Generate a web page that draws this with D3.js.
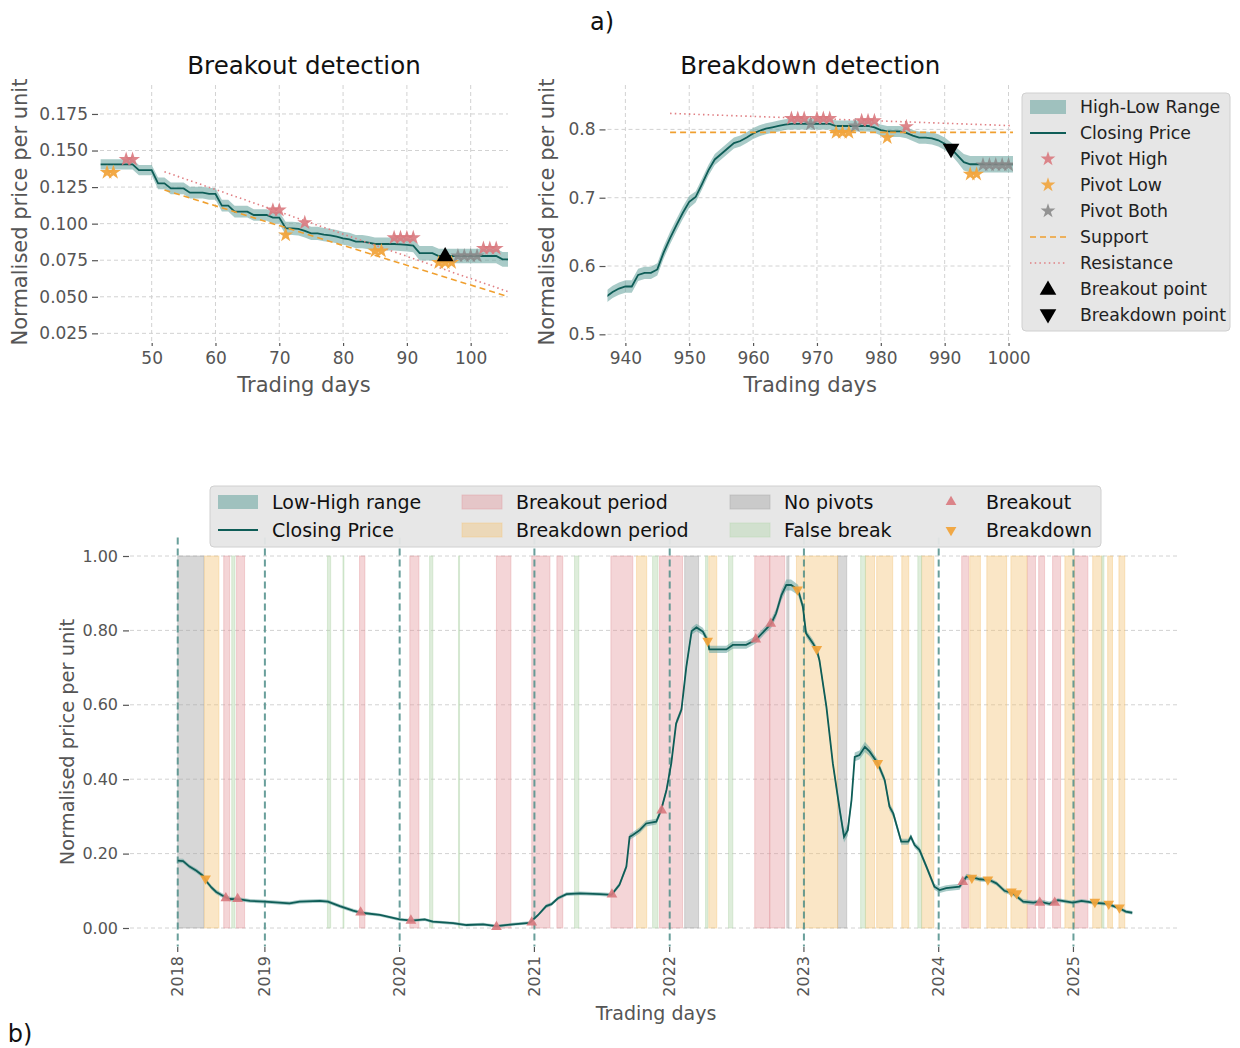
<!DOCTYPE html>
<html>
<head>
<meta charset="utf-8">
<script src="https://cdn.jsdelivr.net/npm/d3@7"></script>
<style>
  body { margin: 0; background: #fff; }
  svg { display: block; }
  text { font-family: "DejaVu Sans", sans-serif; }
</style>
</head>
<body>
<svg id="fig" width="1240" height="1048"></svg>
<script>
// ---------- Panel a, left: breakout detection window (days 42..106) ----------
const boStartDay = 42;
const boClose = [
  .1405, .1405, .1405, .1405, .1405, .1405,
  .1366, .1366, .1366,
  .1276, .1276,
  .1241, .1241, .1241,
  .1212, .1212, .1212,
  .1203, .1203,
  .1123, .1123,
  .1082, .1082, .1082,
  .1059, .1059, .1059,
  .1041, .1041,
  .0968, .0968, .0964,
  .0950, .0934, .0934, .0925, .0920,
  .0911, .0900, .0893, .0877, .0877, .0870,
  .0861, .0861, .0861, .0861, .0858, .0855, .0850,
  .0798, .0798, .0798,
  .0779, .0779, .0779, .0779, .0779, .0779, .0779, .0779, .0779, .0779,
  .0756, .0756
];
const boSpread = [
  .0035, .0035, .0035, .0035, .0035, .0035, .0035, .0035, .0035,
  .004, .004, .004, .004, .004, .004, .004, .004, .004, .004,
  .004, .004, .004, .004, .004, .004, .004, .004, .004, .004,
  .0045, .0045, .0045, .0045, .0045, .0045, .0045, .0045, .0045, .0045, .0045,
  .0045, .0045, .0045, .0045, .0045, .0045, .0045, .0045, .0045, .0045,
  .005, .005, .005, .005, .005, .005, .005, .005, .005, .005,
  .005, .005, .005, .005, .005
];
const boPivotHighDays = [46, 47, 69, 70, 74, 88, 89, 90, 91, 102, 103, 104];
const boPivotHighVals = [.1439, .1439, .1093, .1093, .1007, .0904, .0904, .0904, .0904, .0831, .0831, .0831];
const boPivotLowDays = [43, 44, 71, 85, 86, 95, 96, 97];
const boPivotLowVals = [.1351, .1351, .0923, .0813, .0813, .0734, .0734, .0734];
const boPivotBothDays = [98, 99, 100, 101];
const boPivotBothVals = [.0779, .0779, .0779, .0779];
const boSupportDays = [52, 106];
const boSupportVals = [.1230, .0499];
const boResistDays = [52, 106];
const boResistVals = [.1355, .0533];
const boSignalDay = 96;
const boSignalVal = .0775;
const boXTicks = [50, 60, 70, 80, 90, 100];
const boYTicks = [.025, .05, .075, .1, .125, .15, .175];

// ---------- Panel a, right: breakdown detection window (days 937..1001) ----------
const bdStartDay = 937;
const bdClose = [
  .555, .562, .567, .570, .570, .587, .590, .590, .595, .620, .641, .660, .678, .694,
  .701, .720, .740, .756, .764, .772, .780, .783, .788, .794,
  .798, .801, .803, .805, .807, .808, .808, .808, .808, .808,
  .808, .808, .805, .805, .805, .805, .805, .805, .803, .799,
  .797, .797, .797, .795, .791, .788, .788, .787, .784, .779,
  .772, .762, .752, .749, .749, .749, .749, .749, .749, .749,
  .749
];
const bdSpread = [
  .009, .009, .009, .009, .009, .009, .009, .009, .009, .009, .009, .009, .009, .009,
  .008, .008, .008, .008, .008, .008, .008, .008, .008, .008,
  .008, .008, .008, .008, .008, .008, .008, .008, .008, .008,
  .008, .008, .008, .008, .008, .008, .008, .008, .008, .008,
  .008, .008, .008, .008, .008, .009, .009, .009, .009, .009,
  .009, .010, .012, .012, .012, .012, .012, .012, .012, .012,
  .012
];
const bdPivotHighDays = [966, 967, 968, 970, 971, 972, 977, 978, 979, 984];
const bdPivotHighVals = [.816, .816, .816, .816, .816, .816, .8127, .8127, .8127, .804];
const bdPivotLowDays = [973, 974, 975, 981, 994, 995];
const bdPivotLowVals = [.7956, .7956, .7956, .788, .7346, .7346];
const bdPivotBothDays = [969, 976, 996, 997, 998, 999, 1000];
const bdPivotBothVals = [.808, .805, .748, .748, .748, .748, .748];
const bdSupportDays = [947, 1001];
const bdSupportVals = [.7956, .7956];
const bdResistDays = [947, 1001];
const bdResistVals = [.8234, .8053];
const bdSignalDay = 991;
const bdSignalVal = .772;
const bdXTicks = [940, 950, 960, 970, 980, 990, 1000];
const bdYTicks = [.5, .6, .7, .8];

// ---------- Panel b: full history ----------
const bDays = [0, 10, 22, 35, 47, 54, 63, 72, 85, 97,
  116, 135, 163, 209, 228, 266, 281, 303, 328, 343,
  378, 415, 437, 462, 477, 515, 540, 571, 596, 627,
  658, 674, 689, 699, 711, 727, 752, 789, 811, 826,
  839, 845, 851, 864, 876, 895, 904, 914, 923, 932,
  942, 951, 961, 970, 982, 991, 994, 1026, 1038, 1063,
  1075, 1082, 1101, 1110, 1119, 1129, 1138, 1147, 1160, 1169,
  1175, 1188, 1195, 1200, 1213, 1225, 1238, 1246, 1253, 1260,
  1266, 1275, 1285, 1294, 1309, 1322, 1331, 1338, 1353, 1366,
  1371, 1378, 1387, 1400, 1415, 1425, 1437, 1462, 1468, 1475,
  1487, 1500, 1518, 1531, 1546, 1562, 1581, 1600, 1612, 1630,
  1646, 1674, 1690, 1712, 1739, 1761, 1773, 1785];
const bClose = [.181, .180, .165, .154, .1405, .125, .109, .097, .086, .078,
  .077, .073, .071, .066, .071, .073, .071, .059, .047, .041,
  .035, .023, .020, .023, .017, .013, .008, .010, .005, .010,
  .014, .035, .059, .064, .080, .091, .093, .091, .089, .116,
  .165, .245, .250, .263, .281, .286, .317, .371, .443, .550,
  .587, .701, .798, .808, .797, .772, .749, .749, .761, .761,
  .770, .776, .805, .819, .846, .895, .922, .922, .909, .864,
  .792, .765, .747, .720, .595, .443, .317, .245, .263, .344,
  .460, .465, .487, .474, .443, .398, .326, .308, .232, .232,
  .245, .223, .210, .165, .111, .102, .107, .111, .124, .138,
  .136, .131, .129, .120, .100, .093, .071, .068, .071, .065,
  .075, .068, .073, .068, .065, .053, .044, .041];
const bSpread = [.006, .006, .006, .006, .006, .006, .006, .006, .006, .006,
  .005, .005, .005, .005, .005, .005, .005, .005, .005, .005,
  .004, .004, .004, .004, .004, .004, .004, .004, .004, .004,
  .004, .004, .005, .005, .005, .005, .005, .005, .005, .006,
  .008, .008, .008, .008, .008, .008, .008, .008, .008, .009,
  .009, .009, .010, .010, .010, .010, .010, .010, .010, .010,
  .010, .010, .010, .012, .012, .014, .015, .015, .014, .012,
  .010, .010, .010, .010, .010, .010, .012, .015, .015, .012,
  .012, .012, .014, .012, .010, .010, .010, .010, .008, .008,
  .008, .008, .008, .008, .008, .008, .008, .008, .008, .008,
  .006, .006, .006, .006, .006, .006, .006, .006, .006, .006,
  .005, .005, .005, .005, .005, .005, .005, .005];
const bBreakoutDays = [90, 112, 342, 436, 596, 662, 812, 905, 1081, 1109, 1468, 1612, 1640];
const bBreakoutVals = [.080, .078, .042, .020, .003, .015, .090, .316, .776, .818, .124, .068, .068];
const bBreakdownDays = [52, 991, 1159, 1195, 1309, 1485, 1515, 1559, 1569, 1715, 1741, 1761];
const bBreakdownVals = [.133, .772, .910, .750, .443, .135, .130, .098, .093, .070, .065, .055];

const breakoutPeriods = [[86, 97], [110, 125], [340, 350], [434, 451], [596, 623], [662, 696], [709, 720],
  [810, 851], [901, 944], [1079, 1107], [1107, 1135], [1466, 1479], [1589, 1604], [1610, 1621],
  [1636, 1651], [1677, 1702]];
const breakdownPeriods = [[50, 77], [858, 877], [993, 1008], [1157, 1172], [1172, 1234], [1286, 1303],
  [1307, 1337], [1354, 1367], [1391, 1414], [1481, 1501], [1513, 1550], [1558, 1588], [1659, 1677],
  [1711, 1728], [1739, 1748], [1760, 1771]];
const noPivotPeriods = [[0, 49], [948, 974], [1139, 1143], [1234, 1251]];
const falseBreakPeriods = [[101, 107], [280, 286], [309, 310], [471, 477], [525, 527], [742, 750],
  [888, 898], [987, 991], [1030, 1038], [1277, 1286], [1384, 1391], [1728, 1732]];

const yearDays = [0, 163, 415, 667, 920, 1171, 1423, 1675];
const yearLabels = ["2018", "2019", "2020", "2021", "2022", "2023", "2024", "2025"];
const bYTicks = [0, .2, .4, .6, .8, 1.0];

// ---------- styling ----------
const C = {
  band: "#6fa8a3", bandOpacity: 0.6,
  close: "#0e5d57",
  high: "#d9797e", low: "#f1a43c", both: "#8a8a8a",
  support: "#f0a030", resist: "#e07f83",
  grid: "#d2d2d2", tick: "#555", label: "#555",
  spanBreakout: "#e3959b", spanBreakdown: "#f3c378", spanNone: "#a6a6a6", spanFalse: "#b5d6b0",
  yearLine: "#4f8f8a", legendBg: "#e6e6e6", legendEdge: "#d0d0d0"
};

const svg = d3.select("#fig");
const defs = svg.append("defs");

function styleAxis(g, size) {
  g.select(".domain").remove();
  g.selectAll(".tick line").attr("stroke", C.tick).attr("stroke-width", 1.2);
  g.selectAll(".tick text").attr("fill", C.tick).attr("font-size", size)
    .attr("font-family", '"DejaVu Sans", sans-serif');
}

function starPts(g, days, vals, x, y, color, opacity) {
  g.selectAll(null).data(days.map((d, i) => [d, vals[i]])).join("path")
    .attr("d", d3.symbol().type(d3.symbolStar).size(70))
    .attr("transform", d => `translate(${x(d[0])},${y(d[1])})`)
    .attr("fill", color).attr("opacity", opacity);
}

function detailPanel(o) {
  const { x, y } = o;
  const [x0, x1] = x.range();
  const [yb, yt] = y.range();
  const g = svg.append("g");

  // grid
  g.append("g").selectAll("line").data(o.xTicks).join("line")
    .attr("x1", d => x(d)).attr("x2", d => x(d)).attr("y1", yt).attr("y2", yb)
    .attr("stroke", C.grid).attr("stroke-dasharray", "4,3").attr("stroke-width", 1);
  g.append("g").selectAll("line").data(o.yTicks).join("line")
    .attr("x1", x0).attr("x2", x1).attr("y1", d => y(d)).attr("y2", d => y(d))
    .attr("stroke", C.grid).attr("stroke-dasharray", "4,3").attr("stroke-width", 1);

  defs.append("clipPath").attr("id", o.clipId).append("rect")
    .attr("x", x0).attr("y", yt).attr("width", x1 - x0).attr("height", yb - yt);
  const pg = g.append("g").attr("clip-path", `url(#${o.clipId})`);

  const pts = o.close.map((v, i) => ({ d: o.startDay + i, c: v, s: o.spread[i] }));
  pg.append("path").datum(pts)
    .attr("d", d3.area().x(p => x(p.d)).y0(p => y(p.c - p.s)).y1(p => y(p.c + p.s)))
    .attr("fill", C.band).attr("opacity", C.bandOpacity);
  pg.append("path").datum(pts)
    .attr("d", d3.line().x(p => x(p.d)).y(p => y(p.c)))
    .attr("fill", "none").attr("stroke", C.close).attr("stroke-width", 1.8);

  const lineOf = (days, vals) => d3.line().x(p => x(p[0])).y(p => y(p[1]))(days.map((d, i) => [d, vals[i]]));
  pg.append("path").attr("d", lineOf(o.supDays, o.supVals))
    .attr("fill", "none").attr("stroke", C.support).attr("stroke-width", 1.6).attr("stroke-dasharray", "6,4");
  pg.append("path").attr("d", lineOf(o.resDays, o.resVals))
    .attr("fill", "none").attr("stroke", C.resist).attr("stroke-width", 1.6).attr("stroke-dasharray", "1.5,3.2");

  starPts(pg, o.highDays, o.highVals, x, y, C.high, 0.9);
  starPts(pg, o.lowDays, o.lowVals, x, y, C.low, 0.95);
  starPts(pg, o.bothDays, o.bothVals, x, y, C.both, 0.85);

  const tri = d3.symbol().type(d3.symbolTriangle).size(120)();
  pg.append("path").attr("d", tri)
    .attr("transform", `translate(${x(o.sigDay)},${y(o.sigVal)}) rotate(${o.sigUp ? 0 : 180})`)
    .attr("fill", "#000");

  // axes
  const ya = g.append("g").attr("transform", `translate(${x0 - 2},0)`)
    .call(d3.axisLeft(y).tickValues(o.yTicks).tickFormat(d3.format(o.yFmt)).tickSize(6).tickPadding(4));
  styleAxis(ya, 17);
  const xa = g.append("g").attr("transform", `translate(0,${yb})`)
    .call(d3.axisBottom(x).tickValues(o.xTicks).tickFormat(d3.format("d")).tickSize(3).tickPadding(6));
  styleAxis(xa, 17);

  const cx = (x0 + x1) / 2;
  g.append("text").attr("x", cx).attr("y", 74).attr("text-anchor", "middle")
    .attr("font-size", 24.5).attr("fill", "#111").text(o.title);
  g.append("text").attr("x", cx).attr("y", 392).attr("text-anchor", "middle")
    .attr("font-size", 21).attr("fill", C.label).text("Trading days");
  g.append("text").attr("transform", `translate(${o.ylabX},212) rotate(-90)`)
    .attr("text-anchor", "middle").attr("dominant-baseline", "central")
    .attr("font-size", 21).attr("fill", C.label).text("Normalised price per unit");
}

// ---------- figure labels ----------
svg.append("text").attr("x", 602).attr("y", 30).attr("text-anchor", "middle")
  .attr("font-size", 24).attr("fill", "#111").text("a)");
svg.append("text").attr("x", 20).attr("y", 1042).attr("text-anchor", "middle")
  .attr("font-size", 24).attr("fill", "#111").text("b)");

// ---------- panel a ----------
detailPanel({
  x: d3.scaleLinear([41.9, 105.85], [100, 508]),
  y: d3.scaleLinear([0.0184, 0.1948], [343, 85]),
  startDay: boStartDay, close: boClose, spread: boSpread,
  supDays: boSupportDays, supVals: boSupportVals, resDays: boResistDays, resVals: boResistVals,
  highDays: boPivotHighDays, highVals: boPivotHighVals,
  lowDays: boPivotLowDays, lowVals: boPivotLowVals,
  bothDays: boPivotBothDays, bothVals: boPivotBothVals,
  sigDay: boSignalDay, sigVal: boSignalVal, sigUp: true,
  xTicks: boXTicks, yTicks: boYTicks, yFmt: ".3f",
  title: "Breakout detection", clipId: "clipBo", ylabX: 20
});
detailPanel({
  x: d3.scaleLinear([937.2, 1000.7], [607.5, 1013]),
  y: d3.scaleLinear([0.4873, 0.8650], [343, 85]),
  startDay: bdStartDay, close: bdClose, spread: bdSpread,
  supDays: bdSupportDays, supVals: bdSupportVals, resDays: bdResistDays, resVals: bdResistVals,
  highDays: bdPivotHighDays, highVals: bdPivotHighVals,
  lowDays: bdPivotLowDays, lowVals: bdPivotLowVals,
  bothDays: bdPivotBothDays, bothVals: bdPivotBothVals,
  sigDay: bdSignalDay, sigVal: bdSignalVal, sigUp: false,
  xTicks: bdXTicks, yTicks: bdYTicks, yFmt: ".1f",
  title: "Breakdown detection", clipId: "clipBd", ylabX: 547
});

// legend for panel a
{
  const lg = svg.append("g").attr("transform", "translate(1022,93)");
  lg.append("rect").attr("width", 208).attr("height", 238).attr("rx", 4)
    .attr("fill", C.legendBg).attr("stroke", C.legendEdge);
  const items = ["High-Low Range", "Closing Price", "Pivot High", "Pivot Low", "Pivot Both",
    "Support", "Resistance", "Breakout point", "Breakdown point"];
  items.forEach((t, i) => {
    const cy = 14 + 26 * i;
    const h = lg.append("g");
    if (i === 0) h.append("rect").attr("x", 8).attr("y", cy - 7).attr("width", 36).attr("height", 14)
      .attr("fill", C.band).attr("opacity", C.bandOpacity);
    if (i === 1) h.append("line").attr("x1", 8).attr("x2", 44).attr("y1", cy).attr("y2", cy)
      .attr("stroke", C.close).attr("stroke-width", 1.8);
    if (i >= 2 && i <= 4) h.append("path").attr("d", d3.symbol().type(d3.symbolStar).size(68)())
      .attr("transform", `translate(26,${cy})`)
      .attr("fill", [C.high, C.low, C.both][i - 2]).attr("opacity", 0.9);
    if (i === 5) h.append("line").attr("x1", 8).attr("x2", 44).attr("y1", cy).attr("y2", cy)
      .attr("stroke", C.support).attr("stroke-width", 1.6).attr("stroke-dasharray", "6,4");
    if (i === 6) h.append("line").attr("x1", 8).attr("x2", 44).attr("y1", cy).attr("y2", cy)
      .attr("stroke", C.resist).attr("stroke-width", 1.6).attr("stroke-dasharray", "1.5,3.2");
    if (i >= 7) h.append("path").attr("d", d3.symbol().type(d3.symbolTriangle).size(120)())
      .attr("transform", `translate(26,${cy + (i === 7 ? 1 : -1)}) rotate(${i === 7 ? 0 : 180})`)
      .attr("fill", "#000");
    lg.append("text").attr("x", 58).attr("y", cy).attr("dominant-baseline", "central")
      .attr("font-size", 17.3).attr("fill", "#222").text(t);
  });
}

// ---------- panel b ----------
{
  const x = d3.scaleLinear([-89.25, 1874.25], [130, 1180]);
  const y = d3.scaleLinear([-0.05, 1.05], [946.6, 537.4]);
  const g = svg.append("g");

  g.append("g").selectAll("line").data(bYTicks).join("line")
    .attr("x1", 130).attr("x2", 1180).attr("y1", d => y(d)).attr("y2", d => y(d))
    .attr("stroke", C.grid).attr("stroke-dasharray", "4,3").attr("stroke-width", 1);

  const spanGroups = [
    [noPivotPeriods, C.spanNone, 0.45],
    [breakoutPeriods, C.spanBreakout, 0.4],
    [breakdownPeriods, C.spanBreakdown, 0.42],
    [falseBreakPeriods, C.spanFalse, 0.45]
  ];
  spanGroups.forEach(([spans, col, op]) => {
    g.append("g").selectAll("rect").data(spans).join("rect")
      .attr("x", d => x(d[0])).attr("width", d => Math.max(1, x(d[1]) - x(d[0])))
      .attr("y", y(1)).attr("height", y(0) - y(1))
      .attr("fill", col).attr("fill-opacity", op)
      .attr("stroke", col).attr("stroke-opacity", op).attr("stroke-width", 1);
  });

  g.append("g").selectAll("line").data(yearDays).join("line")
    .attr("x1", d => x(d)).attr("x2", d => x(d)).attr("y1", 537.4).attr("y2", 946.6)
    .attr("stroke", C.yearLine).attr("stroke-width", 2).attr("stroke-dasharray", "7,4")
    .attr("opacity", 0.85);

  const pts = bDays.map((d, i) => ({ d, c: bClose[i], s: bSpread[i] }));
  g.append("path").datum(pts)
    .attr("d", d3.area().x(p => x(p.d)).y0(p => y(p.c - p.s)).y1(p => y(p.c + p.s)))
    .attr("fill", C.band).attr("opacity", C.bandOpacity);
  g.append("path").datum(pts)
    .attr("d", d3.line().x(p => x(p.d)).y(p => y(p.c)))
    .attr("fill", "none").attr("stroke", C.close).attr("stroke-width", 1.8);

  const tri = d3.symbol().type(d3.symbolTriangle).size(50)();
  g.append("g").selectAll("path").data(bBreakoutDays.map((d, i) => [d, bBreakoutVals[i]])).join("path")
    .attr("d", tri).attr("transform", d => `translate(${x(d[0])},${y(d[1])})`)
    .attr("fill", C.high).attr("opacity", 0.9);
  g.append("g").selectAll("path").data(bBreakdownDays.map((d, i) => [d, bBreakdownVals[i]])).join("path")
    .attr("d", tri).attr("transform", d => `translate(${x(d[0])},${y(d[1])}) rotate(180)`)
    .attr("fill", C.low).attr("opacity", 0.95);

  const ya = g.append("g").attr("transform", "translate(129,0)")
    .call(d3.axisLeft(y).tickValues(bYTicks).tickFormat(d3.format(".2f")).tickSize(6).tickPadding(5));
  styleAxis(ya, 16);

  const xa = g.append("g");
  xa.selectAll("line").data(yearDays).join("line")
    .attr("x1", d => x(d)).attr("x2", d => x(d)).attr("y1", 947).attr("y2", 952)
    .attr("stroke", C.tick).attr("stroke-width", 1.2);
  xa.selectAll("text").data(yearDays).join("text")
    .attr("transform", d => `translate(${x(d)},956) rotate(-90)`)
    .attr("text-anchor", "end").attr("dominant-baseline", "central")
    .attr("font-size", 16).attr("fill", C.tick)
    .text((d, i) => yearLabels[i]);

  g.append("text").attr("x", 656).attr("y", 1020).attr("text-anchor", "middle")
    .attr("font-size", 19).attr("fill", C.label).text("Trading days");
  g.append("text").attr("transform", "translate(67,742) rotate(-90)")
    .attr("text-anchor", "middle").attr("dominant-baseline", "central")
    .attr("font-size", 19.4).attr("fill", C.label).text("Normalised price per unit");

  // legend for panel b
  const lg = svg.append("g").attr("transform", "translate(210,486)");
  lg.append("rect").attr("width", 891).attr("height", 61).attr("rx", 4)
    .attr("fill", C.legendBg).attr("fill-opacity", 0.95).attr("stroke", C.legendEdge);
  const rows = [16, 44];
  const cols = [[8, 62], [252, 306], [520, 574], [741, 776]];
  const entries = [
    { t: "Low-High range", c: 0, r: 0, kind: "band" },
    { t: "Closing Price", c: 0, r: 1, kind: "line" },
    { t: "Breakout period", c: 1, r: 0, kind: "span", col: C.spanBreakout, op: 0.4 },
    { t: "Breakdown period", c: 1, r: 1, kind: "span", col: C.spanBreakdown, op: 0.42 },
    { t: "No pivots", c: 2, r: 0, kind: "span", col: C.spanNone, op: 0.45 },
    { t: "False break", c: 2, r: 1, kind: "span", col: C.spanFalse, op: 0.45 },
    { t: "Breakout", c: 3, r: 0, kind: "up" },
    { t: "Breakdown", c: 3, r: 1, kind: "down" }
  ];
  entries.forEach(e => {
    const hx = cols[e.c][0], tx = cols[e.c][1], cy = rows[e.r];
    if (e.kind === "band") lg.append("rect").attr("x", hx).attr("y", cy - 7).attr("width", 40).attr("height", 14)
      .attr("fill", C.band).attr("opacity", C.bandOpacity);
    if (e.kind === "line") lg.append("line").attr("x1", hx).attr("x2", hx + 40).attr("y1", cy).attr("y2", cy)
      .attr("stroke", C.close).attr("stroke-width", 1.8);
    if (e.kind === "span") lg.append("rect").attr("x", hx).attr("y", cy - 7).attr("width", 40).attr("height", 14)
      .attr("fill", e.col).attr("fill-opacity", e.op).attr("stroke", e.col).attr("stroke-opacity", e.op);
    if (e.kind === "up") lg.append("path").attr("d", tri).attr("transform", `translate(${hx},${cy})`)
      .attr("fill", C.high).attr("opacity", 0.9);
    if (e.kind === "down") lg.append("path").attr("d", tri).attr("transform", `translate(${hx},${cy}) rotate(180)`)
      .attr("fill", C.low).attr("opacity", 0.95);
    lg.append("text").attr("x", tx).attr("y", cy).attr("dominant-baseline", "central")
      .attr("font-size", 19).attr("fill", "#111").text(e.t);
  });
}
</script>
</body>
</html>
